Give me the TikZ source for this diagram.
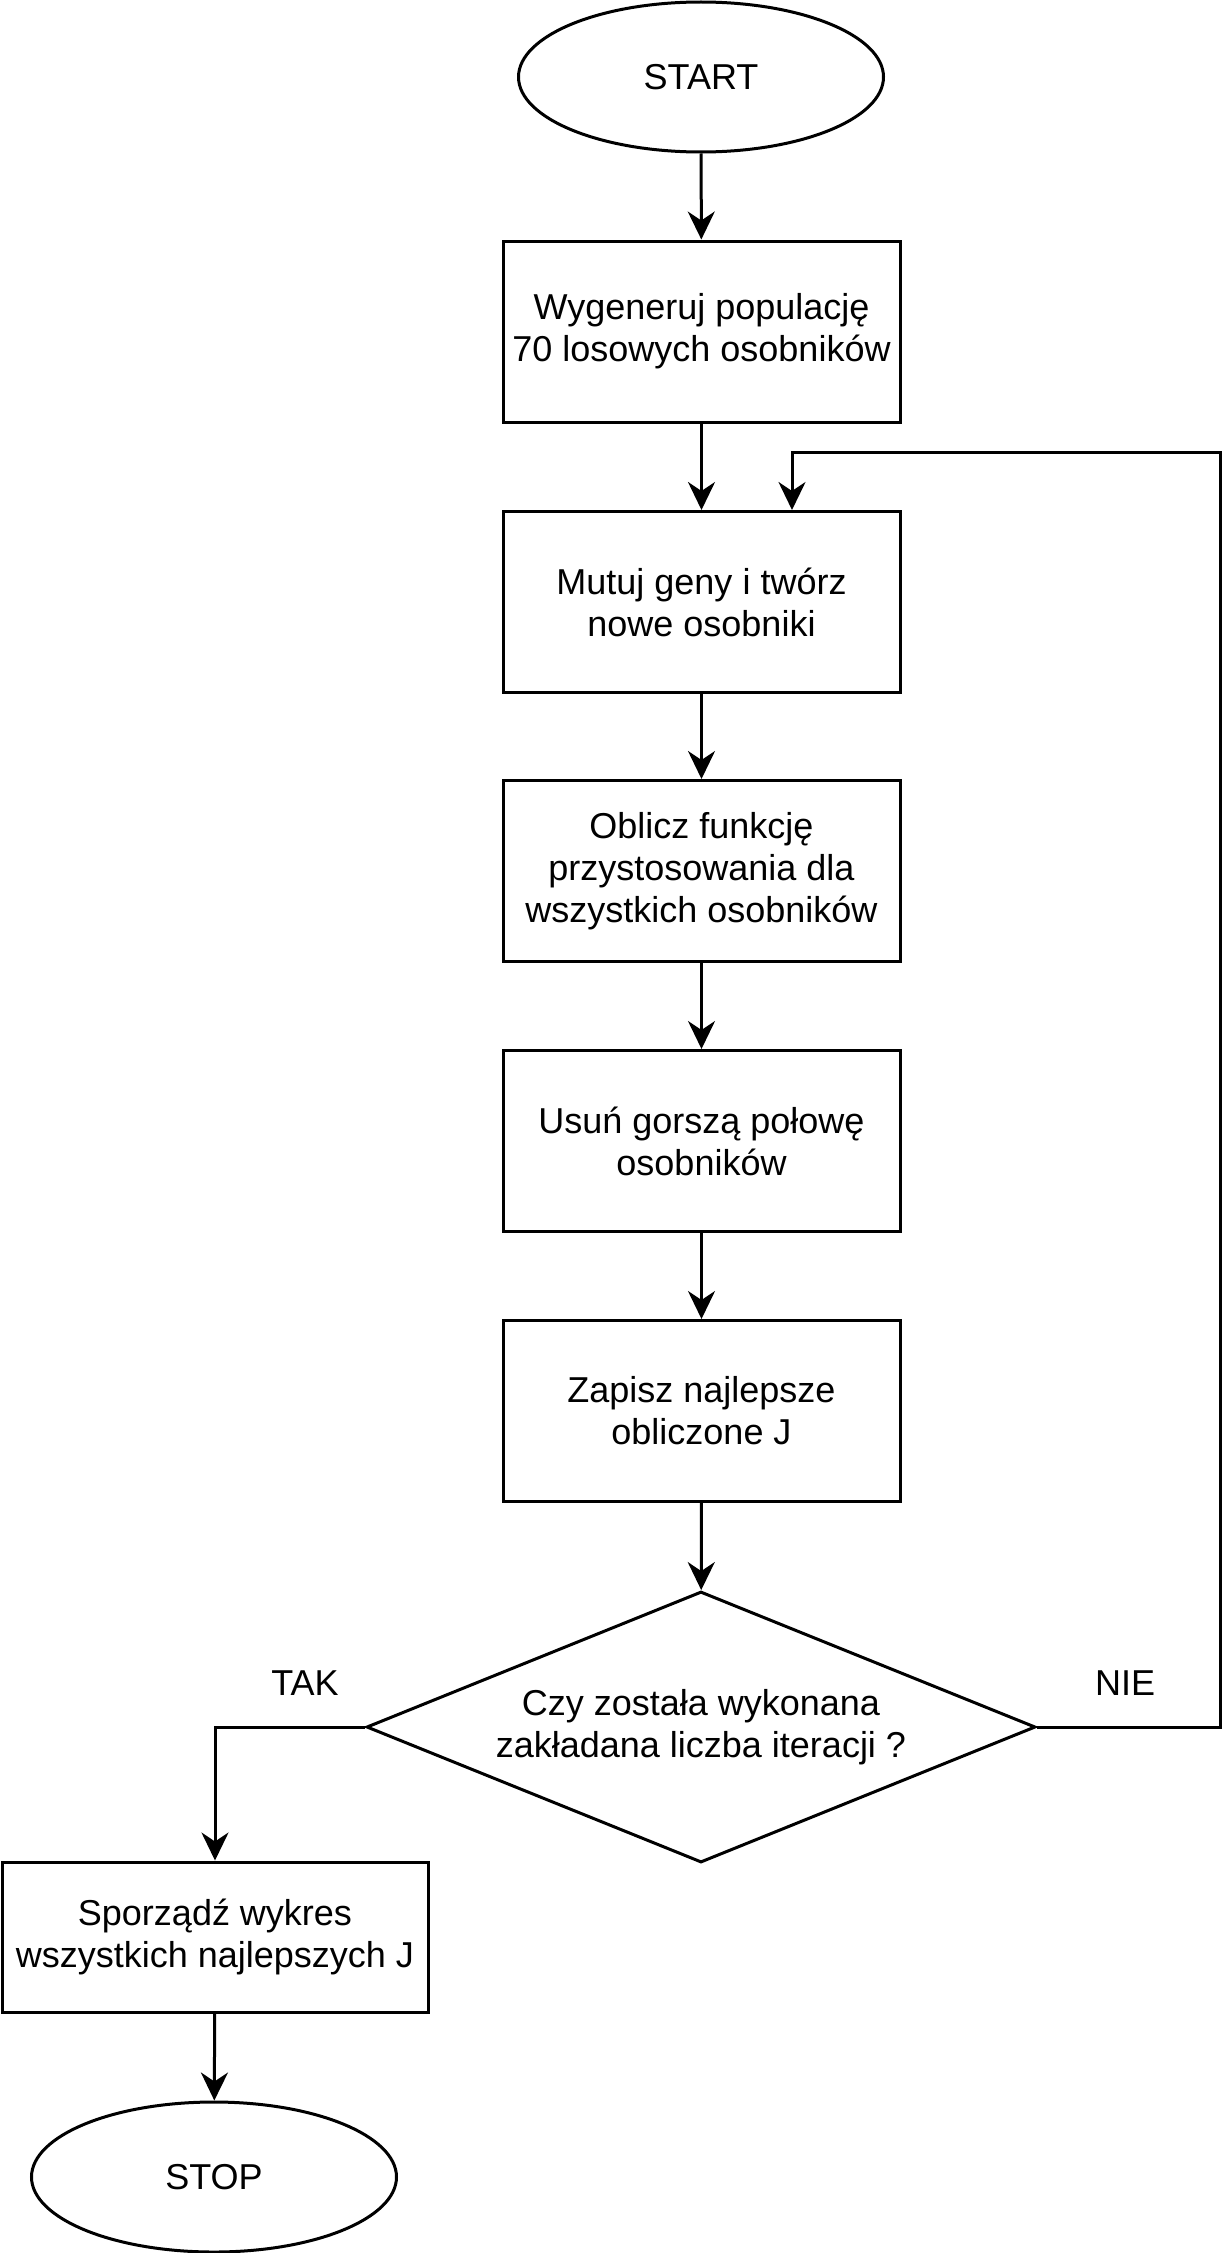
\documentclass[tikz,border=0pt]{standalone}
\usepackage{fontspec}
\setmainfont{Liberation Sans}
\usetikzlibrary{arrows.meta,shapes.geometric}
\begin{document}
\begin{tikzpicture}[x=0.5pt,y=-0.5pt, line width=1.5pt,
  txt/.style={font=\fontsize{18}{21}\selectfont, align=center},
  proc/.style={txt, draw, rectangle, inner sep=0pt, minimum width=198.5pt, minimum height=90.5pt},
  term/.style={txt, draw, ellipse, inner sep=0pt, minimum width=182.5pt, minimum height=75pt},
  dec/.style={txt, draw, diamond, inner sep=0pt, shape aspect=2.47, minimum width=334.5pt, minimum height=135.5pt},
  arr/.style={-{Stealth[length=14pt,width=13.5pt,inset=4.5pt]}},
]
\useasboundingbox (0,0) rectangle (1230,2253);
\node[term] (start) at (701,77) {START};
\node[proc] (b1) at (701.5,331.5) {Wygeneruj populację\\70 losowych osobników};
\node[proc] (b2) at (701.5,602) {Mutuj geny i twórz\\nowe osobniki};
\node[proc] (b3) at (701.5,871) {Oblicz funkcję\\przystosowania dla\\wszystkich osobników};
\node[proc] (b4) at (701.5,1141) {Usuń gorszą połowę\\osobników};
\node[proc] (b5) at (701.5,1411) {Zapisz najlepsze\\obliczone J};
\node[dec] (d) at (701,1727) {Czy została wykonana\\zakładana liczba iteracji ?};
\node[proc, minimum width=213pt, minimum height=75pt] (b6) at (215,1937) {Sporządź wykres\\wszystkich najlepszych J};
\node[term] (stop) at (214,2177) {STOP};
\node[txt] (tak) at (305,1683) {TAK};
\node[txt] (nie) at (1125,1683) {NIE};
\coordinate (loopR) at (1220,452);
\draw[arr] (start) -- (b1);
\draw[arr] (b1) -- (b2);
\draw[arr] (b2) -- (b3);
\draw[arr] (b3) -- (b4);
\draw[arr] (b4) -- (b5);
\draw[arr] (b5) -- (d);
\draw[arr] (d.east) -| (loopR) -| ([xshift=45.25pt]b2.north);
\draw[arr] (d.west) -| (b6.north);
\draw[arr] (b6) -- (stop);
\end{tikzpicture}
\end{document}
